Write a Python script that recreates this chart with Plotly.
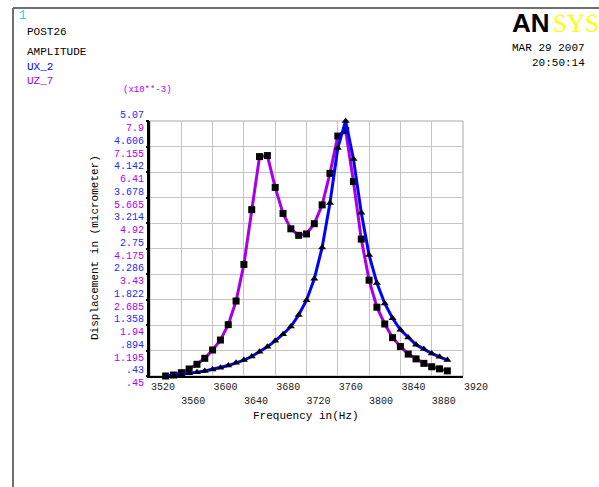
import plotly.graph_objects as go

# ---- data (x10**-3) ----
freq = [3540, 3550, 3560, 3570, 3580, 3590, 3600, 3610, 3620, 3630, 3640,
        3650, 3660, 3670, 3680, 3690, 3700, 3710, 3720, 3730, 3740, 3750,
        3760, 3770, 3780, 3790, 3800, 3810, 3820, 3830, 3840, 3850, 3860,
        3870, 3880, 3890, 3900]
ux_2 = [0.43, 0.445, 0.46, 0.48, 0.50, 0.52, 0.55, 0.58, 0.62, 0.67, 0.72,
        0.785, 0.87, 0.96, 1.07, 1.19, 1.33, 1.54, 1.81, 2.20, 2.77, 3.58,
        4.58, 5.07, 4.38, 3.40, 2.63, 2.12, 1.75, 1.48, 1.27, 1.13, 1.00,
        0.92, 0.84, 0.78, 0.72]
uz_7 = [0.45, 0.479, 0.546, 0.655, 0.792, 0.967, 1.21, 1.50, 1.95, 2.64, 3.71,
        5.31, 6.86, 6.89, 5.96, 5.20, 4.75, 4.56, 4.60, 4.90, 5.45, 6.37,
        7.46, 7.62, 6.13, 4.45, 3.25, 2.46, 1.97, 1.57, 1.31, 1.09, 0.95,
        0.82, 0.72, 0.66, 0.60]

x_ticks_row1 = [3520, 3560, 3600, 3640, 3680, 3720, 3760, 3800, 3840, 3880, 3920]
x_labels_row1 = ["3520", "", "3600", "", "3680", "", "3760", "", "3840", "", "3920"]
x_ticks_row2 = [3560, 3640, 3720, 3800, 3880]
x_labels_row2 = ["3560", "3640", "3720", "3800", "3880"]

ux_ticks = [0.43, 0.894, 1.358, 1.822, 2.286, 2.75, 3.214, 3.678, 4.142, 4.606, 5.07]
ux_labels = [".43", ".894", "1.358", "1.822", "2.286", "2.75", "3.214", "3.678",
             "4.142", "4.606", "5.07"]
uz_ticks = [0.45, 1.195, 1.94, 2.685, 3.43, 4.175, 4.92, 5.665, 6.41, 7.155, 7.9]
uz_labels = [".45", "1.195", "1.94", "2.685", "3.43", "4.175", "4.92", "5.665",
             "6.41", "7.155", "7.9"]

BLUE = "#0000FF"
MAG = "#A800E6"
LBL_BLUE = "#2828FF"
LBL_MAG = "#B000F0"
MONO = "Liberation Mono"

# plot area in pixels
L, R, T, B = 150, 463, 121, 376
W, H = 599, 487


def xp(px):
    return (px - L) / (R - L)


def yp(py):
    return (B - py) / (B - T)


combined = [f"<span style='color:{LBL_BLUE}'>{a}</span><br>"
            f"<span style='color:{LBL_MAG}'>{b}</span>"
            for a, b in zip(ux_labels, uz_labels)]

fig = go.Figure()
fig.add_trace(go.Scatter(
    x=freq, y=uz_7, xaxis="x", yaxis="y", mode="lines+markers", name="UZ_7",
    line=dict(color=MAG, width=3),
    marker=dict(symbol="square", size=7, color="black"),
    cliponaxis=False))
fig.add_trace(go.Scatter(
    x=freq, y=ux_2, xaxis="x2", yaxis="y2", mode="lines+markers", name="UX_2",
    line=dict(color=BLUE, width=3),
    marker=dict(symbol="triangle-up", size=7, color="black"),
    cliponaxis=False))

fig.update_layout(
    width=W, height=H,
    margin=dict(l=L, r=W - R, t=T, b=H - B, pad=0),
    paper_bgcolor="white", plot_bgcolor="white",
    showlegend=False,
    font=dict(family=MONO, size=10, color="black"),
    xaxis=dict(range=[3520, 3920], tickvals=x_ticks_row1, ticktext=x_labels_row1,
               showgrid=True, gridcolor="#C4C4C4", gridwidth=1,
               showline=True, linecolor="black", linewidth=2,
               ticks="", ticklabelposition="outside right",
               tickfont=dict(family=MONO, size=10, color="#202020"),
               zeroline=False, fixedrange=True),
    xaxis2=dict(range=[3520, 3920], overlaying="x", anchor="y", side="bottom",
                tickvals=x_ticks_row2, ticktext=x_labels_row2,
                showgrid=False, showline=False, ticks="",
                ticklabelposition="outside right", ticklabelstandoff=17,
                tickfont=dict(family=MONO, size=10, color="#202020"),
                zeroline=False, fixedrange=True),
    yaxis=dict(range=[0.45, 7.9], tickvals=uz_ticks, showticklabels=False,
               showgrid=True, gridcolor="#C4C4C4", gridwidth=1,
               showline=True, linecolor="black", linewidth=3,
               ticks="", zeroline=False, fixedrange=True),
    yaxis2=dict(range=[0.43, 5.07], overlaying="y", anchor="x", side="left",
                tickvals=ux_ticks, ticktext=combined,
                showgrid=False, showline=False,
                ticks="outside", ticklen=3, tickwidth=2, tickcolor="black",
                tickfont=dict(family=MONO, size=10),
                zeroline=False, fixedrange=True),
)

shapes = [
    # gray plot border (top / right)
    dict(type="rect", xref="paper", yref="paper", x0=0, y0=0, x1=1, y1=1,
         line=dict(color="#A8A8A8", width=1), layer="below"),
    # window frame
    dict(type="line", xref="paper", yref="paper", x0=xp(13), y0=yp(8),
         x1=xp(W + 2), y1=yp(8), line=dict(color="#707070", width=2)),
    dict(type="line", xref="paper", yref="paper", x0=xp(13), y0=yp(8),
         x1=xp(13), y1=yp(H + 2), line=dict(color="#707070", width=2)),
]
fig.update_layout(shapes=shapes)


def ann(text, x, y, xanchor="left", yanchor="middle", size=11, color="black",
        family=MONO, angle=0):
    return dict(text=text, x=xp(x), y=yp(y), xref="paper", yref="paper",
                xanchor=xanchor, yanchor=yanchor, showarrow=False,
                textangle=angle, font=dict(family=family, size=size, color=color))


annotations = [
    ann("1", 17, 16, size=12, color="#00E0E0"),
    ann("POST26", 25, 32),
    ann("AMPLITUDE", 25, 52),
    ann("UX_2", 25, 67, color=BLUE),
    ann("UZ_7", 25, 81, color=MAG),
    ann("(x10**-3)", 121, 90, size=9, color=LBL_MAG),
    ann("<b>AN</b>", 552, 23, xanchor="right", size=26, family="Liberation Sans"),
    ann("SYS", 551, 23, xanchor="left", size=25, color="#FFFF00",
        family="Liberation Serif"),
    ann("MAR 29 2007", 587, 48, xanchor="right"),
    ann("20:50:14", 587, 63, xanchor="right"),
    ann("Frequency in(Hz)", 306, 416, xanchor="center"),
    ann("Displacement in (micrometer)", 95, 248, xanchor="center", angle=-90),
]
fig.update_layout(annotations=annotations)

fig.write_html("out.html",
               config={"displayModeBar": False},
               post_script="document.body.style.margin='0px';"
                           "document.body.style.overflow='hidden';")
